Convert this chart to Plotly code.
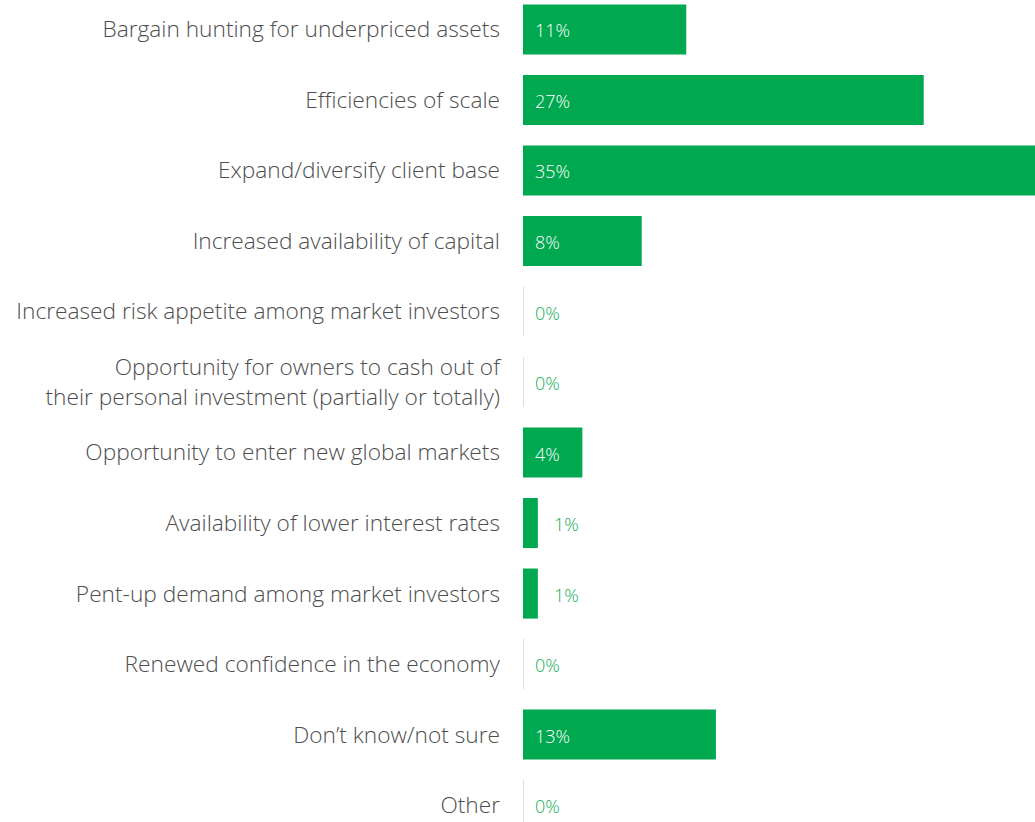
import plotly.graph_objects as go

categories = [
    "Bargain hunting for underpriced assets",
    "Efficiencies of scale",
    "Expand/diversify client base",
    "Increased availability of capital",
    "Increased risk appetite among market investors",
    "Opportunity for owners to cash out of<br>their personal investment (partially or totally)",
    "Opportunity to enter new global markets",
    "Availability of lower interest rates",
    "Pent-up demand among market investors",
    "Renewed confidence in the economy",
    "Don\u2019t know/not sure",
    "Other",
]
values = [11, 27, 35, 8, 0, 0, 4, 1, 1, 0, 13, 0]

GREEN = "#00A84F"
LABEL_GREEN = "#12ad55"
FONT = "Open Sans, Noto Sans, sans-serif"

fig = go.Figure()
fig.add_trace(go.Bar(
    y=categories, x=values, orientation="h",
    marker=dict(color=GREEN, line=dict(width=0)),
    width=0.71, hoverinfo="skip",
))
# thin stub line for zero-valued categories
zero_vals = [0.04 if v == 0 else None for v in values]
fig.add_trace(go.Bar(
    y=categories, x=zero_vals, orientation="h",
    marker=dict(color="#cfe8dc", line=dict(width=0)),
    width=0.71, hoverinfo="skip",
))

for c, v in zip(categories, values):
    inside = v >= 3
    fig.add_annotation(
        x=0 if (inside or v == 0) else v, y=c,
        text=f"{v}%", showarrow=False,
        xanchor="left", yanchor="middle",
        xshift=10 if (inside or v == 0) else 14,
        yshift=-1,
        font=dict(family=FONT, size=18, weight=300,
                  color="white" if inside else LABEL_GREEN),
    )

fig.update_layout(
    width=1035, height=822,
    margin=dict(l=523, r=0, t=0, b=0),
    paper_bgcolor="white", plot_bgcolor="white",
    showlegend=False, barmode="overlay",
    xaxis=dict(range=[0, 34.5], visible=False, fixedrange=True),
    yaxis=dict(
        type="category", categoryorder="array", categoryarray=categories,
        range=[11.24, -0.418], showgrid=False, zeroline=False, showline=False,
        ticks="", ticklabelstandoff=22,
        tickfont=dict(family=FONT, size=22.7, weight=300, color="#4d4d4d"),
    ),
)

fig.write_html("out.html")
